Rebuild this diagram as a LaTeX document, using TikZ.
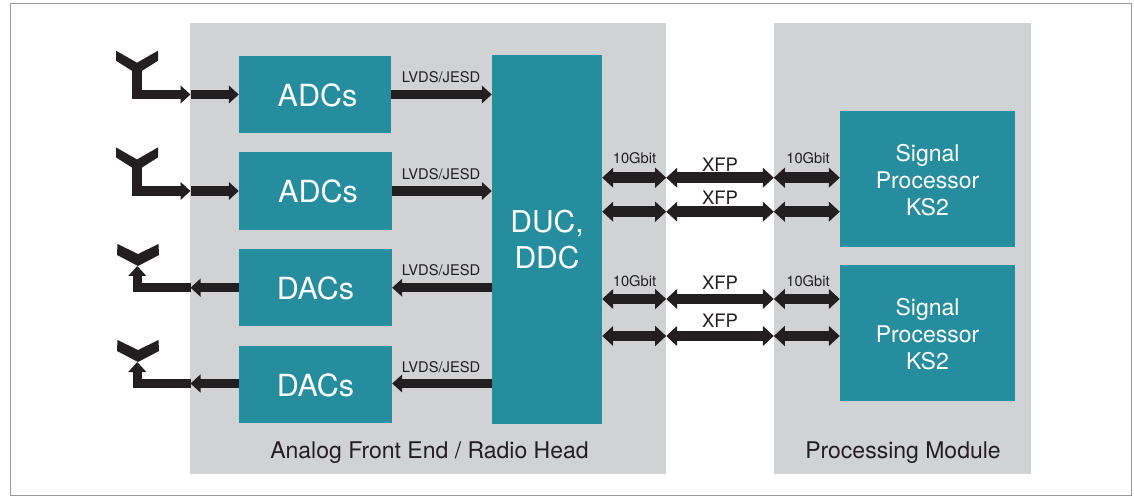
\documentclass[tikz,border=0pt]{standalone}
\usepackage{fontspec}
\setmainfont{TeX Gyre Heros}
\usetikzlibrary{arrows.meta}
\definecolor{panelgray}{HTML}{D1D2D4}
\definecolor{blockteal}{HTML}{268D9E}
\definecolor{linkblack}{HTML}{231F20}
\definecolor{framegray}{HTML}{9A9A9A}
\newcommand{\lift}[1]{\rule{0pt}{#1}}
\tikzset{
  panel/.style={fill=panelgray,draw=none,inner sep=0pt},
  block/.style={fill=blockteal,draw=none,inner sep=0pt,text=white,align=center},
  conv/.style={block,font=\fontsize{30.5}{33}\selectfont},
  dsp/.style={block,minimum width=175pt,minimum height=136pt,font=\fontsize{23}{27}\selectfont},
  link/.style={draw=linkblack,line width=9.5pt,-{Triangle[length=10pt,width=17.5pt]}},
  duplex/.style={draw=linkblack,line width=10.5pt,{Triangle[length=11pt,width=19.5pt]}-{Triangle[length=11pt,width=19.5pt]}},
  smalltag/.style={text=linkblack,font=\fontsize{14.7}{16}\selectfont,inner sep=0pt},
  xfptag/.style={text=linkblack,font=\fontsize{18.5}{20}\selectfont,inner sep=0pt},
  captiontag/.style={text=linkblack,font=\fontsize{23}{25}\selectfont,inner sep=0pt}
}
\begin{document}
\begin{tikzpicture}[x=1pt,y=-1pt]
\useasboundingbox (0,0) rectangle (1134,502);
\def\rxhorn{(-21,0) -- (0,12) -- (21,0) -- (21,10) -- (4.3,20.6) -- (-4.3,20.6) -- (-21,10) -- cycle}
\def\txhorn{(-20.5,0) -- (0,10) -- (20.5,0) -- (21,11) -- (0,22) -- (-21,11) -- cycle}

\draw[framegray,line width=1pt] (10.5,3.5) rectangle (1131,495);

% panels
\node[panel,minimum width=476pt,minimum height=451pt] (front) at (428,248.5) {};
\node[panel,minimum width=257pt,minimum height=451pt] (proc) at (902.5,248.5) {};
\node[captiontag] (frontcap) at (429.5,453) {Analog Front End / Radio Head};
\node[captiontag] (proccap) at (903,453) {Processing Module};

% blocks
\node[conv,minimum width=152pt,minimum height=77pt] (adc1) at (315,94.5) {\lift{25pt}\,ADCs};
\node[conv,minimum width=153pt,minimum height=78pt] (adc2) at (315.5,191) {\lift{24pt}\,ADCs};
\node[conv,minimum width=153pt,minimum height=77pt] (dac1) at (315.5,287.5) {\lift{25pt}DACs};
\node[conv,minimum width=153pt,minimum height=77pt] (dac2) at (315.5,384.5) {\lift{24pt}DACs};
\node[block,minimum width=110pt,minimum height=369pt,font=\fontsize{30}{36}\selectfont] (duc) at (547,239.5) {DUC,\\DDC};
\node[dsp] (sp1) at (927.5,179) {\lift{20pt}Signal\\Processor\\KS2};
\node[dsp] (sp2) at (927.5,333) {\lift{20pt}Signal\\Processor\\KS2};

% antennas
\fill[linkblack,shift={(137,50.7)}] \rxhorn;
\fill[linkblack,shift={(137,147.4)}] \rxhorn;
\fill[linkblack,shift={(138,244)}] \txhorn;
\fill[linkblack,shift={(138,340)}] \txhorn;

\coordinate (ant1) at (137,70);
\coordinate (ant2) at (137,166);
\coordinate (ant3) at (137.3,266);
\coordinate (ant4) at (137.3,362);
\coordinate (edge1) at (190.5,94.5);
\coordinate (edge2) at (190.5,191);
\coordinate (edge3) at (190.5,287.7);
\coordinate (edge4) at (190.5,383.5);

% antenna side
\draw[link,line join=miter] (ant1) |- (edge1);
\draw[link,line join=miter] (ant2) |- (edge2);
\draw[link,line join=miter] (edge3) -| (ant3);
\draw[link,line join=miter] (edge4) -| (ant4);
\draw[link] (edge1) -- (adc1.west |- edge1);
\draw[link] (edge2) -- (adc2.west |- edge2);
\draw[link] (dac1.west |- edge3) -- (edge3);
\draw[link] (dac2.west |- edge4) -- (edge4);

% converters to DUC
\draw[link] (adc1.east |- edge1) -- (duc.west |- edge1);
\draw[link] (adc2.east |- edge2) -- (duc.west |- edge2);
\draw[link] (duc.west |- edge3) -- (dac1.east |- edge3);
\draw[link] (duc.west |- edge4) -- (dac2.east |- edge4);
\node[smalltag] (lv1) at (441,77) {LVDS/JESD};
\node[smalltag] (lv2) at (441,174) {LVDS/JESD};
\node[smalltag] (lv3) at (441,270) {LVDS/JESD};
\node[smalltag] (lv4) at (441,367) {LVDS/JESD};

% duplex links
\foreach \nm/\yy in {a/177.7,b/211.7,c/299,d/336}{
  \coordinate (west\nm) at (front.east |- 0,\yy);
  \coordinate (east\nm) at (proc.west |- 0,\yy);
  \draw[duplex] (duc.east |- west\nm) -- (west\nm);
  \draw[duplex] (west\nm) -- (east\nm);
}
\draw[duplex] (easta) -- (sp1.west |- easta);
\draw[duplex] (eastb) -- (sp1.west |- eastb);
\draw[duplex] (eastc) -- (sp2.west |- eastc);
\draw[duplex] (eastd) -- (sp2.west |- eastd);

\node[smalltag] (gb1) at (634.5,158.5) {10Gbit};
\node[smalltag] (gb2) at (808,158.5) {10Gbit};
\node[smalltag] (gb3) at (634.5,281.5) {10Gbit};
\node[smalltag] (gb4) at (808,281.5) {10Gbit};
\node[xfptag] (xfp1) at (720,164.5) {XFP};
\node[xfptag] (xfp2) at (720,197.5) {XFP};
\node[xfptag] (xfp3) at (720,282.5) {XFP};
\node[xfptag] (xfp4) at (720,320.5) {XFP};
\end{tikzpicture}
\end{document}
